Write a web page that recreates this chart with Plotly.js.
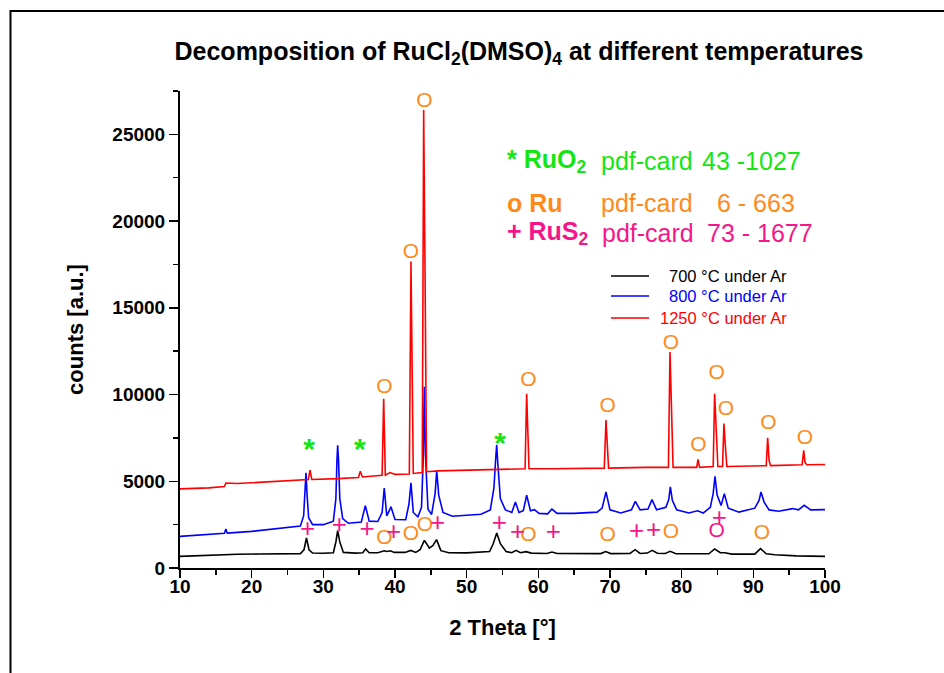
<!DOCTYPE html>
<html>
<head>
<meta charset="utf-8">
<script src="https://cdn.plot.ly/plotly-3.0.1.min.js"></script>
<style>
html,body{margin:0;padding:0;background:#fff;}
#chart{width:944px;height:673px;}
</style>
</head>
<body>
<div id="chart"></div>
<script>
// ---- data ----
const t700 = [10, 12, 15, 18, 21, 24, 26.8, 27.3, 27.65, 28.0,
  28.5, 30, 31.4, 31.75, 32.0, 32.3, 32.8, 34.5, 35.5, 35.9,
  36.4, 37.6, 38.5, 38.9, 39.35, 39.9, 41.4, 42.2, 42.9, 43.5,
  44.1, 44.8, 45.3, 45.8, 46.4, 47.5, 50, 53.2, 53.7, 54.2,
  54.7, 55.5, 56.3, 56.9, 57.5, 58.3, 59, 61.2, 61.9, 62.6,
  65, 68.7, 69.4, 70.1, 72.8, 73.5, 74.2, 75.2, 75.9, 76.6,
  77.7, 78.4, 79.2, 82, 83.8, 84.6, 85.4, 86.0, 87, 90.2,
  91.0, 91.8, 93, 96, 100];
const c700 = [670, 700, 760, 790, 805, 815, 830, 1050, 1730, 1050,
  860, 850, 880, 1500, 2155, 1500, 900, 860, 880, 1095,
  880, 880, 995, 950, 995, 900, 900, 1015, 900, 1050,
  1595, 1150, 1300, 1635, 1000, 880, 870, 950, 1400, 2020,
  1400, 950, 880, 1015, 880, 945, 860, 840, 925, 840,
  830, 830, 945, 830, 840, 1055, 840, 860, 1015, 850,
  840, 960, 820, 800, 820, 1095, 880, 880, 800, 800,
  1115, 820, 760, 700, 670];

const t800 = [10, 13, 16.2, 16.4, 16.6, 20, 25, 26.8, 27.25, 27.45,
  27.58, 27.72, 27.95, 28.5, 30, 31.4, 31.75, 31.9, 32.0, 32.12,
  32.3, 32.7, 33.5, 35.3, 35.86, 36.4, 37.6, 38.2, 38.5, 38.85,
  39.44, 40.0, 41.5, 41.95, 42.23, 42.55, 43.2, 43.7, 43.95, 44.09,
  44.25, 44.6, 45.1, 45.6, 45.82, 46.1, 46.7, 48, 50, 52,
  53.3, 53.8, 54.05, 54.19, 54.35, 54.7, 55.4, 56.3, 56.8, 57.3,
  57.9, 58.37, 58.9, 59.45, 60.1, 61.3, 61.9, 62.6, 65, 68.2,
  68.9, 69.44, 70.0, 71.5, 73.0, 73.53, 74.2, 75.3, 75.86, 76.5,
  77.8, 78.2, 78.42, 78.7, 79.3, 81, 82.23, 83, 84.0, 84.4,
  84.65, 84.95, 85.5, 85.95, 86.5, 88, 90.2, 90.8, 91.07, 91.5,
  92.2, 93.5, 95.5, 96.3, 97.1, 98, 100];
const c800 = [1825, 1920, 2000, 2250, 2010, 2110, 2310, 2420, 3000, 4300,
  5485, 4300, 2900, 2500, 2500, 2700, 4000, 6200, 7080, 6200,
  4000, 2850, 2580, 2650, 3595, 2700, 2680, 3200, 4615, 3000,
  3525, 2800, 2780, 3700, 4905, 3200, 2950, 3500, 6500, 10450,
  6500, 3400, 3080, 4300, 5600, 4200, 3200, 2980, 3020, 3100,
  3350, 4600, 6300, 7100, 6000, 4000, 3350, 3200, 3810, 3200,
  3300, 4195, 3300, 3365, 3150, 3120, 3400, 3150, 3150, 3220,
  3450, 4385, 3350, 3170, 3350, 3845, 3350, 3400, 3945, 3350,
  3500, 3950, 4675, 3900, 3350, 3170, 3300, 3170, 3500, 4300,
  5290, 4200, 3600, 4290, 3450, 3220, 3450, 3900, 4385, 3800,
  3350, 3270, 3425, 3350, 3615, 3350, 3365];

const t1250 = [10, 14, 16.2, 16.4, 18, 22, 25, 27.9, 28.14, 28.4,
  32, 34.9, 35.16, 35.45, 38.2, 38.42, 38.65, 39.3, 40, 42.0,
  42.23, 42.35, 42.55, 43.8, 44.0, 44.2, 44.4, 46, 50, 55,
  58.15, 58.37, 58.5, 58.7, 62, 69.2, 69.44, 69.6, 69.8, 75,
  78.15, 78.37, 78.55, 78.8, 82.1, 82.28, 82.5, 84.4, 84.6, 84.8,
  85.05, 85.7, 85.9, 86.1, 86.3, 91.8, 92.0, 92.2, 92.4, 96.8,
  97.03, 97.2, 97.45, 100];
const c1250 = [4560, 4620, 4700, 4900, 4870, 4950, 5040, 5100, 5635, 5100,
  5150, 5220, 5575, 5250, 5350, 9755, 5350, 5500, 5400, 5420,
  17670, 11930, 5450, 5500, 26400, 16650, 5550, 5600, 5650, 5720,
  5720, 10045, 7985, 5720, 5720, 5760, 8525, 7215, 5760, 5800,
  5800, 12450, 9045, 5800, 5800, 6255, 5800, 5850, 10045, 7985,
  5850, 5850, 8330, 7025, 5850, 5900, 7505, 6200, 5900, 5950,
  6790, 6100, 5950, 5965];

// peak labels (position of the text box centre)
const ruo2X = [28.0, 35.1, 54.65];
const ruo2Y = [6700, 6740, 7090];
const ruX = [38.51, 42.23, 44.09, 58.6, 69.67, 78.51, 82.33, 84.89, 86.18, 92.09, 97.2,
             38.51, 42.23, 44.19, 58.6, 69.67, 78.51, 91.2];
const ruY = [10400, 18200, 26900, 10800, 9300, 12900, 7040, 11210, 9120, 8320, 7480,
             1710, 1900, 2420, 1845, 1845, 2035, 1995];
const ruPinkX = [84.89];
const ruPinkY = [2075];
const rus2X = [27.82, 32.23, 36.09, 39.82, 45.95, 54.56, 57.12, 62.09, 73.72, 76.09, 85.25];
const rus2Y = [2170, 2400, 2170, 1975, 2495, 2535, 2015, 1975, 2055, 2110, 2825];

const seriesNames = ['700 °C under Ar', '800 °C under Ar', '1250 °C under Ar'];
const xTicks = [10, 20, 30, 40, 50, 60, 70, 80, 90, 100];
const yTicks = [0, 5000, 10000, 15000, 20000, 25000];

// ---- styles ----
const FONT = 'Arial, "Liberation Sans", Helvetica, sans-serif';
const GREEN = '#14e614', ORANGE = '#ff8a1c', PINK = '#f5168a';
const lineColors = ['#000000', '#0000ff', '#ff0000'];

const L = 180, T = 91, W = 645, H = 477;
const px = x => (x - L) / W;
const py = y => (T + H - y) / H;

function lineTrace(x, y, c, name) {
  return {x: x, y: y, type: 'scatter', mode: 'lines', name: name,
          line: {color: c, width: 1.6}, showlegend: false, hoverinfo: 'skip'};
}
function labelTrace(x, y, s, c, size, weight) {
  return {x: x, y: y, type: 'scatter', mode: 'text', text: x.map(() => s),
          textposition: 'middle center',
          textfont: {family: FONT, size: size, color: c, weight: weight || 'normal'},
          showlegend: false, hoverinfo: 'skip'};
}

const data = [
  lineTrace(t700, c700, lineColors[0], seriesNames[0]),
  lineTrace(t800, c800, lineColors[1], seriesNames[1]),
  lineTrace(t1250, c1250, lineColors[2], seriesNames[2]),
  labelTrace(ruo2X, ruo2Y, '*', GREEN, 30, 'bold'),
  labelTrace(ruX, ruY, 'O', ORANGE, 21),
  labelTrace(ruPinkX, ruPinkY, 'O', PINK, 21),
  labelTrace(rus2X, rus2Y, '+', PINK, 26)
];

const ann = [];
function addText(xp, yp, text, size, color, anchor) {
  ann.push({xref: 'paper', yref: 'paper', x: px(xp), y: py(yp), text: text,
            showarrow: false, xanchor: anchor || 'left', yanchor: 'middle',
            font: {family: FONT, size: size, color: color}});
}
// phase key
addText(505, 161, '<b>* RuO<sub>2</sub></b>', 25, GREEN);
addText(599, 161, 'pdf-card', 25, GREEN);
addText(700, 161, '43 -1027', 25, GREEN);
addText(505, 203, '<b>o Ru</b>', 25, ORANGE);
addText(599, 203, 'pdf-card', 25, ORANGE);
addText(715, 203, '6 - 663', 25, ORANGE);
addText(505, 233, '<b>+ RuS<sub>2</sub></b>', 25, PINK);
addText(600, 233, 'pdf-card', 25, PINK);
addText(705, 233, '73 - 1677', 25, PINK);
// series key
const keyY = [276, 296, 318];
const shapes = [];
keyY.forEach((yy, i) => {
  addText(789, yy, seriesNames[i], 16.5, lineColors[i], 'right');
  shapes.push({type: 'line', xref: 'paper', yref: 'paper', x0: px(611), x1: px(649),
               y0: py(yy), y1: py(yy), line: {color: lineColors[i], width: 1.5}});
});
// outer frame (top and left edges)
shapes.push({type: 'line', xref: 'paper', yref: 'paper', x0: px(10), x1: px(950),
             y0: py(11), y1: py(11), line: {color: '#000', width: 2}});
shapes.push({type: 'line', xref: 'paper', yref: 'paper', x0: px(10.5), x1: px(10.5),
             y0: py(10), y1: py(680), line: {color: '#000', width: 2}});

const layout = {
  width: 944, height: 673,
  margin: {l: L, r: 944 - L - W, t: T, b: 673 - T - H, pad: 0},
  paper_bgcolor: '#fff', plot_bgcolor: '#fff',
  font: {family: FONT, color: '#000'},
  title: {text: '<b>Decomposition of RuCl<sub>2</sub>(DMSO)<sub>4</sub> at different temperatures</b>',
          font: {family: FONT, size: 25, color: '#000'},
          x: 519 / 944, xref: 'container', xanchor: 'center',
          y: 1 - 51 / 673, yref: 'container', yanchor: 'middle'},
  xaxis: {range: [10, 100], tickvals: xTicks, ticktext: xTicks.map(String),
          showline: true, linecolor: '#000', linewidth: 2, mirror: false,
          ticks: 'outside', ticklen: 8, tickwidth: 1.5, tickcolor: '#000',
          ticklabelstandoff: -8,
          minor: {ticks: 'outside', ticklen: 5, dtick: 5, tick0: 10, tickwidth: 1.5, tickcolor: '#000'},
          showgrid: false, zeroline: false,
          tickfont: {family: FONT, size: 19, color: '#000', weight: 'bold'},
          title: {text: '<b>2 Theta [°]</b>', font: {family: FONT, size: 22, color: '#000'}, standoff: 24}},
  yaxis: {range: [0, 27500], tickvals: yTicks, ticktext: yTicks.map(String),
          showline: true, linecolor: '#000', linewidth: 2, mirror: false,
          ticks: 'outside', ticklen: 9, tickwidth: 1.5, tickcolor: '#000',
          minor: {ticks: 'outside', ticklen: 5, dtick: 2500, tick0: 0, tickwidth: 1.5, tickcolor: '#000'},
          showgrid: false, zeroline: false,
          tickfont: {family: FONT, size: 19, color: '#000', weight: 'bold'},
          title: {text: '<b>counts [a.u.]</b>', font: {family: FONT, size: 22, color: '#000'}, standoff: 23}},
  annotations: ann,
  shapes: shapes,
  showlegend: false
};

Plotly.newPlot('chart', data, layout, {displayModeBar: false, staticPlot: true});
</script>
</body>
</html>
